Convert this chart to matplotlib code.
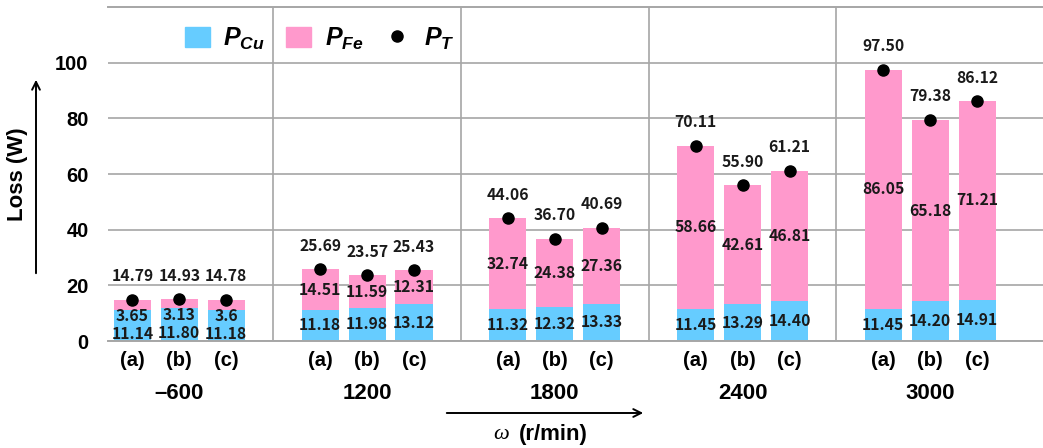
import numpy as np
import matplotlib
matplotlib.use('Agg')
import matplotlib.pyplot as plt
from matplotlib.patches import Patch, FancyArrowPatch
from matplotlib.lines import Line2D

# bold italic Arial-like math text for the P_xx legend labels
matplotlib.rcParams['mathtext.fontset'] = 'custom'
matplotlib.rcParams['mathtext.it'] = 'Liberation Sans:italic:bold'
matplotlib.rcParams['mathtext.rm'] = 'Liberation Sans:bold'
matplotlib.rcParams['mathtext.bf'] = 'Liberation Sans:bold'

speeds = ['–600', '1200', '1800', '2400', '3000']
cases = ['(a)', '(b)', '(c)']

p_cu = [[11.14, 11.80, 11.18],
        [11.18, 11.98, 13.12],
        [11.32, 12.32, 13.33],
        [11.45, 13.29, 14.40],
        [11.45, 14.20, 14.91]]
p_fe = [[3.65, 3.13, 3.6],
        [14.51, 11.59, 12.31],
        [32.74, 24.38, 27.36],
        [58.66, 42.61, 46.81],
        [86.05, 65.18, 71.21]]
p_fe_text = [['3.65', '3.13', '3.6'],
             ['14.51', '11.59', '12.31'],
             ['32.74', '24.38', '27.36'],
             ['58.66', '42.61', '46.81'],
             ['86.05', '65.18', '71.21']]
p_t = [[14.79, 14.93, 14.78],
       [25.69, 23.57, 25.43],
       [44.06, 36.70, 40.69],
       [70.11, 55.90, 61.21],
       [97.50, 79.38, 86.12]]

CU_COLOR = '#66ccff'
FE_COLOR = '#ff99cc'
GRID = '#a6a6a6'
NUM_FONT = 'Noto Sans CJK KR'
LBL_FONT = 'Liberation Sans'

W, H = 1043, 448
fig = plt.figure(figsize=(W / 100, H / 100), dpi=100)
ax = fig.add_axes([108 / W, 1 - 341 / H, 1 - 108 / W, (341 - 7) / H])

num_kw = dict(family=NUM_FONT, fontsize=11.3, fontweight='bold',
              color='#1a1a1a', ha='center', va='center', zorder=5)

xs = []
for g in range(len(speeds)):
    for k in range(len(cases)):
        x = 4 * g + k - 1
        xs.append(x)
        cu, fe, tot = p_cu[g][k], p_fe[g][k], p_t[g][k]
        ax.bar(x, cu, width=0.79, color=CU_COLOR, zorder=2)
        ax.bar(x, fe, bottom=cu, width=0.79, color=FE_COLOR, zorder=2)
        ax.plot(x, tot, 'o', color='black', ms=8, zorder=4)
        if fe < 5:
            # small iron loss: both labels squeezed into the blue part
            y_cu, y_fe = cu * 0.24, cu * 0.8
        else:
            y_cu, y_fe = cu / 2, cu + fe / 2
        ax.text(x, y_cu, f'{cu:.2f}', **num_kw)
        ax.text(x, y_fe, p_fe_text[g][k], **num_kw)
        ax.annotate(f'{tot:.2f}', (x, tot), xytext=(0, 17),
                    textcoords='offset points', **num_kw)

# group separators
for g in range(len(speeds) - 1):
    ax.axvline(4 * g + 2, color=GRID, lw=1.2, zorder=1)

ax.set_xlim(-1.52, 18.4)
ax.set_ylim(0, 120)
ax.set_yticks(np.arange(0, 101, 20))
ax.yaxis.grid(True, color=GRID, lw=1.2, zorder=1)
ax.set_axisbelow(True)
for s in ['left', 'right']:
    ax.spines[s].set_visible(False)
for s in ['top', 'bottom']:
    ax.spines[s].set_color(GRID)
    ax.spines[s].set_linewidth(1.4)

ax.set_xticks(xs, labels=cases * len(speeds))
ax.tick_params(axis='x', length=0, pad=7)
ax.tick_params(axis='y', length=0, pad=14)
for lab in ax.get_xticklabels() + ax.get_yticklabels():
    lab.set_family(LBL_FONT)
    lab.set_fontweight('bold')
    lab.set_fontsize(14.5)

for g, sp in enumerate(speeds):
    ax.annotate(sp, (4 * g, 0), xycoords=('data', 'axes fraction'),
                xytext=(0, -37.5), textcoords='offset points',
                ha='center', va='center', family=LBL_FONT,
                fontweight='bold', fontsize=16)

# legend
handles = [Patch(color=CU_COLOR), Patch(color=FE_COLOR),
           Line2D([], [], ls='none', marker='o', color='black', ms=8)]
ax.legend(handles, [r'$P_{Cu}$', r'$P_{Fe}$', r'$P_{T}$'], ncol=3,
          loc='center left', bbox_to_anchor=(0.082, 0.905), frameon=False,
          borderpad=0, borderaxespad=0, fontsize=18, handlelength=1.0,
          handleheight=0.85, handletextpad=0.55, columnspacing=0.85)

# axis titles with arrows
fig.text(18 / W, 1 - 174 / H, 'Loss (W)', rotation=90, ha='center', va='center',
         family=LBL_FONT, fontweight='bold', fontsize=16)
fig.add_artist(FancyArrowPatch(
    (36 / W, 1 - 276 / H), (36 / W, 1 - 77 / H), transform=fig.transFigure,
    arrowstyle='->', mutation_scale=14, lw=1.4, color='black'))
fig.add_artist(FancyArrowPatch(
    (444 / W, 1 - 413 / H), (646 / W, 1 - 413 / H), transform=fig.transFigure,
    arrowstyle='->', mutation_scale=14, lw=1.4, color='black'))
fig.text(509 / W, 1 - 434 / H, 'ω', ha='right', va='center',
         family='Liberation Serif', style='italic', fontsize=16)
fig.text(519 / W, 1 - 434 / H, '(r/min)', ha='left', va='center',
         family=LBL_FONT, fontweight='bold', fontsize=16)

fig.savefig('out.png', dpi=100)
